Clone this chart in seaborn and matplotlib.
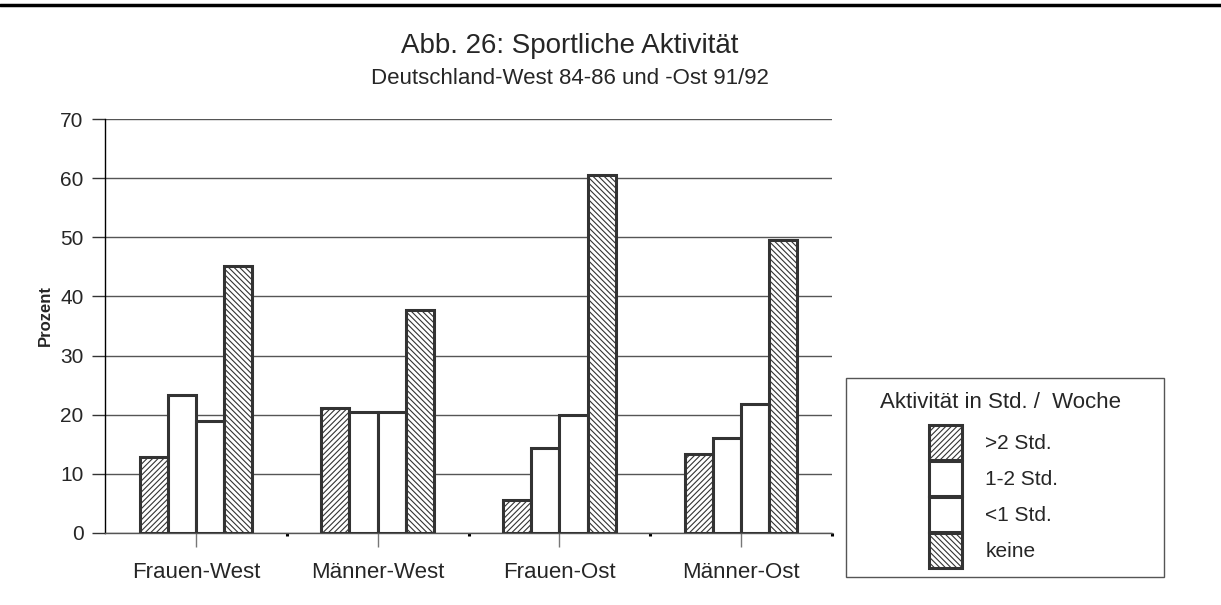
import pandas as pd
import numpy as np
import matplotlib
import matplotlib.pyplot as plt
import seaborn as sns
from matplotlib.patches import Patch, Rectangle
from matplotlib.lines import Line2D

# data
groups = ['Frauen-West', 'Männer-West', 'Frauen-Ost', 'Männer-Ost']
levels = ['>2 Std.', '1-2 Std.', '<1 Std.', 'keine']
vals_gt2 = [12.9, 21.1, 5.6, 13.3]
vals_1_2 = [23.4, 20.5, 14.4, 16.1]
vals_lt1 = [19.0, 20.5, 20.0, 21.8]
vals_keine = [45.2, 37.7, 60.6, 49.5]
yticks = [0, 10, 20, 30, 40, 50, 60, 70]

df = pd.DataFrame({
    'Gruppe': groups * 4,
    'Aktivität': np.repeat(levels, len(groups)),
    'Prozent': vals_gt2 + vals_1_2 + vals_lt1 + vals_keine,
})

sns.set_style("white")
plt.rcParams['font.family'] = ['Liberation Sans', 'DejaVu Sans']
plt.rcParams['hatch.linewidth'] = 0.8

W, H = 1221, 605
fig = plt.figure(figsize=(W / 100, H / 100), dpi=100)
ax = fig.add_axes([105 / W, 1 - 533 / H, (832 - 105) / W, (533 - 119) / H])

edge = '#333333'
hatches = ['//////', '', '', '\\\\\\\\\\\\']

sns.barplot(data=df, x='Gruppe', y='Prozent', hue='Aktivität', hue_order=levels,
            order=groups, palette=['white'] * 4, width=0.62, dodge=True,
            edgecolor=edge, linewidth=2.2, legend=False, ax=ax, zorder=3)

for cont, h in zip(ax.containers, hatches):
    for bar in cont:
        bar.set_hatch(h)

ax.set_xlim(-0.5, 3.5)
ax.set_ylim(0, 70)
ax.set_yticks(yticks)
ax.yaxis.grid(True, color='#555555', linewidth=1.0, zorder=0)
ax.set_axisbelow(True)
ax.set_xlabel('')
ax.set_ylabel('')

for s in ['top', 'right']:
    ax.spines[s].set_visible(False)
ax.spines['left'].set_color('black')
ax.spines['left'].set_linewidth(1.0)
ax.spines['bottom'].set_color('#555555')
ax.spines['bottom'].set_linewidth(1.0)

ax.tick_params(axis='y', which='major', direction='out', length=9.5, width=1.0,
               color='#333333', pad=6, labelsize=15, left=True)
ax.tick_params(axis='x', which='major', direction='out', length=10, width=1.0,
               color='#777777', pad=11, labelsize=16, bottom=True)
ax.set_xticks([0.5, 1.5, 2.5, 3.5], minor=True)
ax.tick_params(axis='x', which='minor', direction='out', length=2.2, width=2.2,
               color='black', bottom=True)

fig.text(45 / W, 1 - 315 / H, 'Prozent', rotation=90, ha='center', va='center',
         fontsize=12, fontweight='bold')

fig.text(570 / W, 1 - 53 / H, 'Abb. 26: Sportliche Aktivität', ha='center',
         va='baseline', fontsize=20)
fig.text(570 / W, 1 - 84 / H, 'Deutschland-West 84-86 und -Ost 91/92', ha='center',
         va='baseline', fontsize=16)

# thick rule at the top of the page
fig.add_artist(Line2D([0, 1], [1 - 5 / H, 1 - 5 / H], color='black', linewidth=2.5,
                      transform=fig.transFigure))

# legend box
fig.add_artist(Rectangle((846 / W, 1 - 577 / H), (1164 - 846) / W, (577 - 378) / H,
                         transform=fig.transFigure, fill=False, edgecolor='#555555',
                         linewidth=1.0))
fig.text(1001 / W, 1 - 402 / H, 'Aktivität in Std. /  Woche', ha='center', va='center',
         fontsize=16)
handles = [Patch(facecolor='white', edgecolor=edge, hatch=h, linewidth=2.2)
           for h in hatches]
fig.legend(handles, levels, loc='upper left', bbox_to_anchor=(929 / W, 1 - 425 / H),
           frameon=False, fontsize=15, handlelength=1.6, handleheight=2.2,
           labelspacing=0.05, handletextpad=1.1, borderpad=0, borderaxespad=0)

fig.savefig('out.png', dpi=100)
